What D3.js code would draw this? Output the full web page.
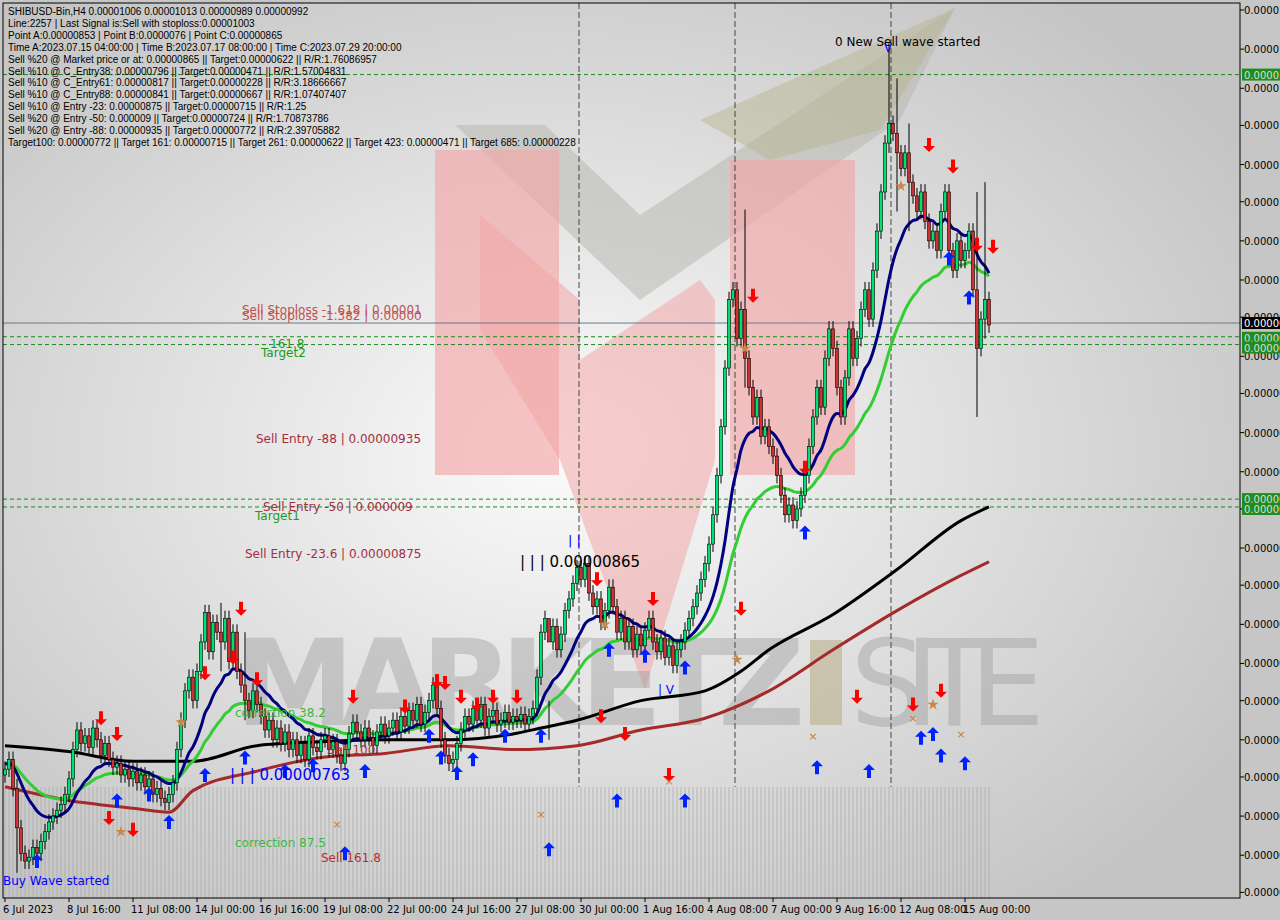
<!DOCTYPE html><html><head><meta charset="utf-8">
<script src="https://cdn.jsdelivr.net/npm/d3@7"></script>
<style>body{margin:0;background:#c6c6c6}svg{display:block;font-family:Tahoma,"DejaVu Sans",sans-serif}</style></head><body>
<svg id="c" width="1280" height="920"></svg>
<script>
// ---- data (prices in units of 1e-8) ----
const closes=[765,770,755,735,722,718,720,725,722,728,733,738,741,744,747,752,
760,775,785,778,782,776,786,780,772,778,770,766,768,762,765,760,
764,758,762,756,760,752,755,750,748,752,758,775,790,805,812,800,
815,830,845,825,840,835,830,842,820,835,815,808,800,795,805,798,
792,785,790,780,786,778,784,775,780,772,778,770,782,776,774,780,
782,775,779,772,768,775,783,789,784,780,786,781,777,784,788,782,
786,790,784,792,787,795,790,798,788,794,800,808,796,780,772,768,
770,778,785,792,788,796,790,798,786,792,795,788,790,794,789,792,
790,793,788,792,796,812,835,842,830,838,826,834,846,852,860,868,
862,870,855,848,852,840,846,858,848,835,842,830,838,826,834,828,
836,842,830,825,832,822,828,818,826,830,836,842,848,855,862,870,
880,895,915,940,970,1005,1010,985,1000,975,960,945,955,935,940,930,
925,915,905,895,900,892,898,905,915,930,945,960,950,975,990,980,
960,945,965,990,975,985,1000,1010,995,1020,1040,1060,1085,1095,1090,1080,
1072,1080,1065,1058,1050,1060,1045,1035,1040,1030,1050,1060,1030,1020,1035,1025,
1030,1040,1010,980,995,1005,992];
const firstOpen=762;
const spikes=[[3,760,712],[54,850,815],[60,835,790],[136,800,780],[185,1051,960],[221,1136,1080],[223,1118,1050],[226,1095,1040],[243,1060,945],[245,1065,985]]; // [index, high, low]
const blackMA=[[0,777],[16,774],[32,769],[47,769],[63,777],[79,779],[95,780],[111,780],[127,783],[134,786],[143,790],[159,800],[175,805],[184,815],[191,826],[207,844],[223,867],[239,892],[246,899]];
const redMA=[[0,756],[16,749],[32,745],[41,743],[47,754],[63,764],[79,771],[95,773],[111,777],[127,775],[143,777],[159,785],[175,791],[191,805],[207,826],[223,846],[239,864],[246,871]];
const redDown=[[24,791],[28,783],[26,740],[32,734],[50,814],[57,822],[59,847],[63,811],[87,802],[100,797],[108,810],[110,809],[114,802],[118,798],[122,802],[128,802],[148,862],[149,792],[155,783],[162,852],[166,762],[184,847],[187,1007],[200,919],[213,802],[227,798],[231,1084],[234,805],[237,1073],[243,1033],[247,1032]];
const blueUp=[[8,718],[28,749],[36,752],[41,738],[50,762],[60,771],[70,764],[77,767],[85,722],[90,764],[106,782],[109,771],[113,763],[117,770],[125,782],[134,782],[136,724],[151,826],[153,749],[160,823],[170,749],[170,817],[200,886],[203,766],[216,764],[229,781],[232,783],[234,772],[236,1026],[240,768],[241,1006]];
const stars=[[44,789],[29,733],[185,980],[183,821],[224,1063],[232,798],[150,839]];
const crosses=[[202,782],[227,791],[239,783],[134,742],[83,737],[166,759]];
const dateLabels=["6 Jul 2023","8 Jul 16:00","11 Jul 08:00","14 Jul 00:00","16 Jul 16:00","19 Jul 08:00","22 Jul 00:00","24 Jul 16:00","27 Jul 08:00","30 Jul 00:00","1 Aug 16:00","4 Aug 08:00","7 Aug 00:00","9 Aug 16:00","12 Aug 08:00","15 Aug 00:00"];
const priceTicks=[1153,1133,1113,1094,1074,1055,1035,1015,996,976,957,937,917,898,878,859,839,819,800,780,761,741,721,702];
const infoLines=["SHIBUSD-Bin,H4  0.00001006 0.00001013 0.00000989 0.00000992","Line:2257 | Last Signal is:Sell with stoploss:0.00001003","Point A:0.00000853 | Point B:0.0000076 | Point C:0.00000865","Time A:2023.07.15 04:00:00 | Time B:2023.07.17 08:00:00 | Time C:2023.07.29 20:00:00","Sell %20 @ Market price or at: 0.00000865 || Target:0.00000622 || R/R:1.76086957","Sell %10 @ C_Entry38: 0.00000796 || Target:0.00000471 || R/R:1.57004831","Sell %10 @ C_Entry61: 0.00000817 || Target:0.00000228 || R/R:3.18666667","Sell %10 @ C_Entry88: 0.00000841 || Target:0.00000667 || R/R:1.07407407","Sell %10 @ Entry -23: 0.00000875 || Target:0.00000715 || R/R:1.25","Sell %20 @ Entry -50: 0.000009 || Target:0.00000724 || R/R:1.70873786","Sell %20 @ Entry -88: 0.00000935 || Target:0.00000772 || R/R:2.39705882","Target100: 0.00000772 || Target 161: 0.00000715 || Target 261: 0.00000622 || Target 423: 0.00000471 || Target 685: 0.00000228"];
const greenLevels=[1120,986,982,903,899];
const vLines=[143.5,182.5,221.5];
const curPrice=993;

// ---- drawing ----
const svg=d3.select("#c");
const L=3,R=1240,T=3,B=898;
const x=d3.scaleLinear().domain([0,1]).range([5,9]);
const y=d3.scaleLinear().domain([900,992]).range([505,325]);
const defs=svg.append("defs");
const rg=defs.append("radialGradient").attr("id","bg").attr("cx","0.45").attr("cy","0.5").attr("r","0.65");
rg.append("stop").attr("offset","0").attr("stop-color","#fbfbfb");
rg.append("stop").attr("offset","1").attr("stop-color","#c4c4c4");
defs.append("clipPath").attr("id","pc").append("rect").attr("x",L).attr("y",T).attr("width",R-L).attr("height",B-T);
defs.append("clipPath").attr("id","ac").append("rect").attr("x",R).attr("y",0).attr("width",1280-R).attr("height",920);
svg.append("rect").attr("width",1280).attr("height",920).attr("fill","#c6c6c6");
svg.append("rect").attr("x",L).attr("y",T).attr("width",R-L).attr("height",B-T).attr("fill","url(#bg)");
const g=svg.append("g").attr("clip-path","url(#pc)");
// logo
g.append("polygon").attr("points","455,125 545,125 640,215 955,8 900,120 640,300").attr("fill","#b8b8b0").attr("opacity",0.55);
g.append("polygon").attr("points","700,120 955,8 880,130 770,160").attr("fill","#b6b48c").attr("opacity",0.45);
g.append("rect").attr("x",435).attr("y",150).attr("width",124).attr("height",325).attr("fill","#f2a6a6").attr("opacity",0.65);
g.append("rect").attr("x",730).attr("y",160).attr("width",125).attr("height",315).attr("fill","#f2a6a6").attr("opacity",0.65);
g.append("polygon").attr("points","480,215 580,300 580,360 700,280 715,300 715,460 645,690 560,460 480,330").attr("fill","#f2a6a6").attr("opacity",0.55);
g.append("text").attr("x",235).attr("y",725).attr("font-size",120).attr("font-weight","bold").attr("fill","#999").attr("opacity",0.4).attr("textLength",570).text("MARKETZ");
g.append("rect").attr("x",810).attr("y",640).attr("width",32).attr("height",85).attr("fill","#b0a070").attr("opacity",0.45);
g.append("text").attr("x",850).attr("y",725).attr("font-size",120).attr("fill","#999").attr("opacity",0.4).attr("textLength",195).text("SITE");
// histogram stripes
g.selectAll(".st").data(closes).join("line").attr("x1",(d,i)=>x(i)).attr("x2",(d,i)=>x(i)).attr("y1",787).attr("y2",B).attr("stroke","#a8a8a8").attr("stroke-width",1).attr("opacity",0.7);
// levels
greenLevels.forEach(p=>g.append("line").attr("x1",L).attr("x2",R).attr("y1",y(p)).attr("y2",y(p)).attr("stroke","#1a8a1a").attr("stroke-dasharray","4,3"));
g.append("line").attr("x1",L).attr("x2",R).attr("y1",y(curPrice)).attr("y2",y(curPrice)).attr("stroke","#6a7a8a");
vLines.forEach(i=>g.append("line").attr("x1",x(i)).attr("x2",x(i)).attr("y1",T).attr("y2",787).attr("stroke","#444").attr("stroke-dasharray","6,3"));
// MAs
const ema=(n,seed)=>{let e=seed,k=2/(n+1);return closes.map(c=>e=c*k+e*(1-k));};
const line=d3.line().x(d=>x(d[0])).y(d=>y(d[1])).curve(d3.curveMonotoneX);
g.append("path").attr("d",line(redMA)).attr("fill","none").attr("stroke","#a52a2a").attr("stroke-width",3);
g.append("path").attr("d",line(blackMA)).attr("fill","none").attr("stroke","#000").attr("stroke-width",3);
g.append("path").attr("d",line(ema(34,768).map((v,i)=>[i,v]))).attr("fill","none").attr("stroke","#32cd32").attr("stroke-width",3);
g.append("path").attr("d",line(ema(16,768).map((v,i)=>[i,v]))).attr("fill","none").attr("stroke","#000080").attr("stroke-width",3);
// candles
const sp=new Map(spikes.map(s=>[s[0],s]));
closes.forEach((c,i)=>{const o=i?closes[i-1]:firstOpen;const s=sp.get(i);
 const hi=s?s[1]:Math.max(o,c)+4, lo=s?s[2]:Math.min(o,c)-4;
 g.append("line").attr("x1",x(i)).attr("x2",x(i)).attr("y1",y(hi)).attr("y2",y(lo)).attr("stroke","#000");
 g.append("rect").attr("x",x(i)-1.5).attr("width",3).attr("y",y(Math.max(o,c))).attr("height",Math.max(1,Math.abs(y(o)-y(c)))).attr("fill",c>=o?"#00e070":"#d03030").attr("stroke","#000").attr("stroke-width",0.6);});
// signals
const arrow=(sel,col,dir)=>sel.attr("d",dir>0?"M0,-7 L6,-1 L2,-1 L2,7 L-2,7 L-2,-1 L-6,-1Z":"M0,7 L6,1 L2,1 L2,-7 L-2,-7 L-2,1 L-6,1Z").attr("fill",col);
redDown.forEach(d=>arrow(g.append("path").attr("transform",`translate(${x(d[0])},${y(d[1])})`),"#f00",-1));
blueUp.forEach(d=>arrow(g.append("path").attr("transform",`translate(${x(d[0])},${y(d[1])})`),"#0022ff",1));
stars.forEach(d=>g.append("path").attr("d",d3.symbol(d3.symbolStar,40)()).attr("transform",`translate(${x(d[0])},${y(d[1])})`).attr("fill","#c8884a"));
crosses.forEach(d=>g.append("text").attr("x",x(d[0])).attr("y",y(d[1])+4).attr("text-anchor","middle").attr("font-size",11).attr("fill","#d07a3a").text("×"));
// labels
const lab=(t,xx,yy,c,fs)=>g.append("text").attr("x",xx).attr("y",yy).attr("fill",c).attr("font-size",fs||12).text(t);
lab("Sell Stoploss -1.618 | 0.00001",242,314,"#c05050");lab("Sell Stoploss -1.382 | 0.00000",242,320,"#c05050");
lab("161.8",270,348,"#1a9a1a");lab("Target2",261,357,"#1a9a1a");
lab("Sell Entry -88 | 0.00000935",256,443,"#a03040");lab("Sell Entry -50 | 0.000009",263,511,"#a03040");
lab("Target1",255,520,"#1a9a1a");lab("Sell Entry -23.6 | 0.00000875",245,558,"#a03040");
lab("| | |  0.00000865",520,567,"#000",15);lab("| |",568,545,"#00f",13);
lab("0 New Sell wave started",835,46,"#000");lab("Buy Wave started",3,885,"#00f");
lab("correction 38.2",235,717,"#3cb83c");lab("correction 87.5",235,847,"#3cb83c");
lab("Sell 100",327,754,"#b03030");lab("Sell 161.8",321,862,"#b03030");
lab("| | | 0.00000763",230,780,"#0000ff",15);lab("| V",658,694,"#00f");lab("V",884,52,"#00f");
// info text
infoLines.forEach((t,i)=>svg.append("text").attr("x",8).attr("y",15+i*11.9).attr("font-size",10).attr("font-family","'Liberation Sans',Arial,sans-serif").attr("fill","#000").text(t));
// frame & axes
svg.append("rect").attr("x",L).attr("y",T).attr("width",R-L).attr("height",B-T).attr("fill","none").attr("stroke","#000");
const ax=svg.append("g").attr("clip-path","url(#ac)");
priceTicks.forEach(p=>{ax.append("line").attr("x1",R).attr("x2",R+4).attr("y1",y(p)).attr("y2",y(p)).attr("stroke","#000");
 ax.append("text").attr("x",R+4).attr("y",y(p)+4).attr("font-size",10).attr("fill","#000").text("0.0000"+(p>=1000?"1":"0")+String(p).padStart(4,"0").slice(p>=1000?1:0)+"0");});
const box=(p,col,tc,yy)=>{ax.append("rect").attr("x",R+2).attr("y",yy-6).attr("width",40).attr("height",12).attr("fill",col);ax.append("text").attr("x",R+4).attr("y",yy+4).attr("font-size",10).attr("fill",tc).text("0.0000"+(p>=1000?"1":"0")+String(p).slice(-3)+"0");};
box(1120,"#1e8c1e","#ddd",y(1120));box(993,"#000","#fff",y(curPrice));box(986,"#1e8c1e","#ddd",y(986)+1);box(982,"#1e8c1e","#ddd",y(982)+3);box(903,"#1e8c1e","#ddd",y(903));box(899,"#1e8c1e","#ddd",y(899)+2);
dateLabels.forEach((t,i)=>{const xx=x(i*16);svg.append("line").attr("x1",xx).attr("x2",xx).attr("y1",B).attr("y2",B+4).attr("stroke","#000");svg.append("text").attr("x",xx-2).attr("y",913).attr("font-size",10).attr("fill","#000").text(t);});
</script></body></html>
